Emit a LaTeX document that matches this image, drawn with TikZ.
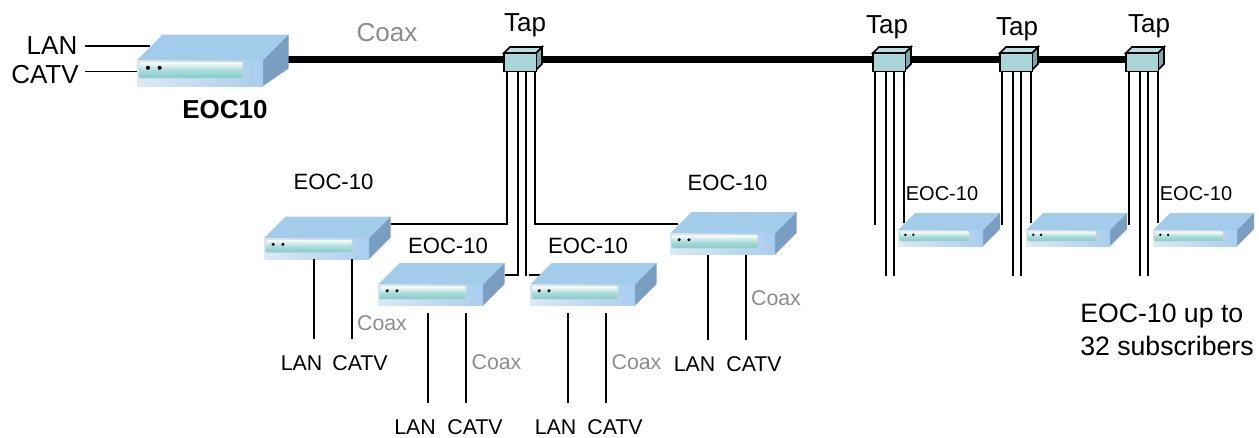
\documentclass[tikz,border=0pt]{standalone}
\usepackage{fontspec}
\setmainfont{Liberation Sans}
\usetikzlibrary{calc}
\definecolor{devtop}{HTML}{A3CCEB}
\definecolor{devside}{HTML}{7A9EC2}
\definecolor{devlight}{HTML}{DCE9F7}
\definecolor{devdark}{HTML}{A9CDEE}
\definecolor{panel}{HTML}{7FCBC8}
\definecolor{tapfront}{HTML}{A9D4D8}
\definecolor{tapside}{HTML}{7FA6AA}
\definecolor{coaxgray}{HTML}{8C8C8C}
\tikzset{
  drop/.style={line width=1.2pt, draw=black},
  trunk/.style={line width=4.6pt, draw=black},
  devfront/.style={rectangle, inner sep=0pt, outer sep=0pt, left color=devlight, right color=devdark},
  tapfrontbox/.style={rectangle, draw=black, line width=1.2pt, fill=tapfront, inner sep=0pt, outer sep=0pt,
              minimum width=24.5pt, minimum height=14pt},
  big/.style={font=\fontsize{19.5}{22}\selectfont},
  mid/.style={font=\fontsize{16.6}{19}\selectfont},
  low/.style={font=\fontsize{16}{18}\selectfont},
  tiny/.style={font=\fontsize{15}{18}\selectfont},
  coaxlab/.style={low, text=coaxgray}
}
% name, left, top, width, height, depth, back height
\newcommand{\eocbox}[7]{
  \fill[devtop] (#2,#3) -- ++(#6,-#6) -- ++(#4,0) -- ++(-#6,#6) -- cycle;
  \fill[devside] (#2+#4,#3) -- ++(#6,-#6) -- ++(0,#7) -- (#2+#4,#3+#5) -- cycle;
  \node[devfront, anchor=north west, minimum width=#4*0.75pt, minimum height=#5*0.75pt] (#1) at (#2,#3) {};
  \draw[gray!35, rounded corners=1pt, top color=white, bottom color=panel, middle color=panel!65!white]
    (#2+0.015*#4,#3+0.07*#5) rectangle (#2+0.84*#4,#3+0.70*#5);
  \fill (#2+0.087*#4,#3+0.30*#5) circle ({#4*0.012pt}) (#2+0.18*#4,#3+0.30*#5) circle ({#4*0.012pt});
}
% name, left, top
\newcommand{\tapbox}[3]{
  \draw[line width=1.2pt, fill=tapside] (#2+32,#3) -- ++(6,-6) -- ++(0,17) -- ++(-6,6) -- cycle;
  \draw[line width=1.2pt, fill=tapfront!80!white] (#2,#3) -- ++(6,-6) -- ++(32,0) -- ++(-6,6) -- cycle;
  \node[tapfrontbox, anchor=north west] (#1) at (#2,#3) {};
}

\begin{document}
\begin{tikzpicture}[x=0.75pt, y=-0.75pt]
\useasboundingbox (0,0) rectangle (1259,437);
% head end
\coordinate (lanend) at (150,46);
\coordinate (catvend) at (140,71.5);
\node[big] (lan0) at (52,46) {LAN};
\node[big] (catv0) at (45,75) {CATV};
\draw[drop] ([xshift=2.5pt]lan0.east |- lanend) -- (lanend);
\draw[drop] ([xshift=1.2pt]catv0.east |- catvend) -- (catvend);
% trunk
\coordinate (trunkstart) at (280,59.5);
\coordinate (trunkend) at (1130,59.5);
\draw[trunk] (trunkstart) -- (trunkend);
\eocbox{d0}{137}{60}{126}{26}{25.5}{34}
\node[big, font=\fontsize{19.5}{22}\selectfont\bfseries] (d0lab) at (225,110) {EOC10};
\node[big, text=coaxgray] (coax0) at (387,33) {Coax};
\tapbox{tap1}{504}{53}
\tapbox{tap2}{873}{53}
\tapbox{tap3}{1000}{53}
\tapbox{tap4}{1126}{53}
\node[big] (taplab1) at (525,25) {Tap};
\node[big] (taplab2) at (887,27) {Tap};
\node[big] (taplab3) at (1017,29) {Tap};
\node[big] (taplab4) at (1149,26) {Tap};
% subscribers, first tap
\coordinate (a1) at (507,224);\coordinate (a1d) at (391,224);
\coordinate (a2) at (518,275);\coordinate (a2d) at (505,275);
\coordinate (a3) at (526,276);
\coordinate (a4) at (535,224);\coordinate (a4d) at (678,224);
\coordinate (a5) at (529,275);\coordinate (a5d) at (540,275);
\draw[drop] (a1 |- tap1.south) -- (a1) -- (a1d);
\draw[drop] (a2 |- tap1.south) -- (a2) -- (a2d);
\draw[drop] (a3 |- tap1.south) -- (a3);
\draw[drop] (a4 |- tap1.south) -- (a4) -- (a4d);
\draw[drop] (a5) -- (a5d);
\eocbox{d1}{264}{238}{105}{21}{21.5}{21}
\eocbox{d2}{378}{284.5}{105}{21}{21.5}{21}
\eocbox{d3}{530}{284.5}{105}{21}{21.5}{21}
\eocbox{d4}{670}{233.5}{105}{21}{21.5}{21}
% subscribers, other taps
\coordinate (b1) at (875,225);\coordinate (b2) at (886,276);\coordinate (b3) at (894,276);\coordinate (b4) at (904,223);
\coordinate (c1) at (1002,225);\coordinate (c2) at (1013,276);\coordinate (c3) at (1021,276);\coordinate (c4) at (1031,223);
\coordinate (e1) at (1129,225);\coordinate (e2) at (1140,276);\coordinate (e3) at (1148,276);\coordinate (e4) at (1158,223);
\draw[drop] (b1 |- tap2.south) -- (b1);\draw[drop] (b2 |- tap2.south) -- (b2);\draw[drop] (b3 |- tap2.south) -- (b3);\draw[drop] (b4 |- tap2.south) -- (b4);
\draw[drop] (c1 |- tap3.south) -- (c1);\draw[drop] (c2 |- tap3.south) -- (c2);\draw[drop] (c3 |- tap3.south) -- (c3);\draw[drop] (c4 |- tap3.south) -- (c4);
\draw[drop] (e1 |- tap4.south) -- (e1);\draw[drop] (e2 |- tap4.south) -- (e2);\draw[drop] (e3 |- tap4.south) -- (e3);\draw[drop] (e4 |- tap4.south) -- (e4);
\eocbox{d5}{898}{230}{85}{16}{17}{16}
\eocbox{d6}{1026}{230}{84}{16}{17}{16}
\eocbox{d7}{1153}{230}{84}{16}{17}{16}
% device ports
\coordinate (p1) at (314,339);\coordinate (q1) at (352,339);
\coordinate (p2) at (428,403);\coordinate (q2) at (466,403);
\coordinate (p3) at (568,403);\coordinate (q3) at (606,403);
\coordinate (p4) at (708,340);\coordinate (q4) at (746,340);
\draw[drop] (p1 |- d1.south) -- (p1);\draw[drop] (q1 |- d1.south) -- (q1);
\draw[drop] ([yshift=-5.5pt]p2 |- d2.south) -- (p2);\draw[drop] ([yshift=-5.5pt]q2 |- d2.south) -- (q2);
\draw[drop] ([yshift=-5.5pt]p3 |- d3.south) -- (p3);\draw[drop] ([yshift=-5.5pt]q3 |- d3.south) -- (q3);
\draw[drop] (p4 |- d4.south) -- (p4);\draw[drop] (q4 |- d4.south) -- (q4);
% labels
\node[mid] (eoc1) at (333.5,182) {EOC-10};
\node[mid] (eoc2) at (448,246) {EOC-10};
\node[mid] (eoc3) at (588,246) {EOC-10};
\node[mid] (eoc4) at (727.5,183) {EOC-10};
\node[tiny] (eoc5) at (942,194) {EOC-10};
\node[tiny] (eoc7) at (1196,194) {EOC-10};
\node[coaxlab] (cx1) at (382,323) {Coax};
\node[coaxlab] (cx2) at (496.5,362) {Coax};
\node[coaxlab] (cx3) at (636.5,362) {Coax};
\node[coaxlab] (cx4) at (776,298) {Coax};
\node[low] (lan1) at (301.5,363) {LAN};\node[low] (catv1) at (360,363) {CATV};
\node[low, inner sep=1pt] (lan2) at (415,427) {LAN};\node[low, inner sep=1pt] (catv2) at (475,427) {CATV};
\node[low, inner sep=1pt] (lan3) at (555.5,427) {LAN};\node[low, inner sep=1pt] (catv3) at (615,427) {CATV};
\node[low] (lan4) at (694.5,364) {LAN};\node[low] (catv4) at (754,364) {CATV};
\node[anchor=north west, inner sep=0pt, align=left, font=\fontsize{20}{24.75}\selectfont] (note) at (1080,304) {EOC-10 up to\\32 subscribers};
\end{tikzpicture}
\end{document}
